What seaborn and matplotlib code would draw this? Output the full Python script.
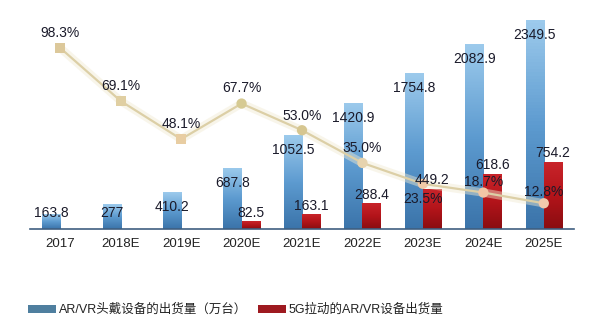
import numpy as np
import pandas as pd
import matplotlib
matplotlib.use("Agg")
import matplotlib.pyplot as plt
import matplotlib.colors as mcolors
from matplotlib.patches import Patch
import seaborn as sns

# ---------------- data ----------------
categories = ["2017", "2018E", "2019E", "2020E", "2021E", "2022E", "2023E", "2024E", "2025E"]
arvr_shipments = [163.8, 277, 410.2, 687.8, 1052.5, 1420.9, 1754.8, 2082.9, 2349.5]
fiveg_shipments = [np.nan, np.nan, np.nan, 82.5, 163.1, 288.4, 449.2, 618.6, 754.2]
growth_rate = [98.3, 69.1, 48.1, 67.7, 53.0, 35.0, 23.5, 18.7, 12.8]
series_names = ["AR/VR头戴设备的出货量（万台）", "5G拉动的AR/VR设备出货量"]

# ---------------- style ----------------
sns.set_theme(style="white")
plt.rcParams["font.family"] = ["Liberation Sans", "Noto Sans CJK SC", "DejaVu Sans"]

W, H, DPI = 600, 328, 100
fig = plt.figure(figsize=(W / DPI, H / DPI), dpi=DPI)
fig.patch.set_facecolor("white")
ax_left, ax_right, ax_base, ax_top = 30, 574, 228.7, 10
ax = fig.add_axes([ax_left / W, 1 - ax_base / H, (ax_right - ax_left) / W, (ax_base - ax_top) / H])
ax.set_facecolor("none")

df = pd.DataFrame({
    "year": categories * 2,
    "value": arvr_shipments + fiveg_shipments,
    "series": [series_names[0]] * len(categories) + [series_names[1]] * len(categories),
})
blue_c, red_c = "#5b97c8", "#a5161b"
sns.barplot(data=df, x="year", y="value", hue="series", order=categories,
            hue_order=series_names, palette=[blue_c, red_c], width=0.6,
            dodge=True, legend=False, ax=ax, saturation=1, linewidth=0)

YMAX = 2463
ax.set_xlim(-0.5, len(categories) - 0.5)
ax.set_ylim(0, YMAX)

# gradient fill for the bars
grad_maps = [
    mcolors.LinearSegmentedColormap.from_list("b", ["#3b74aa", "#5d9bd0", "#9ccaec"]),
    mcolors.LinearSegmentedColormap.from_list("r", ["#8a0d11", "#b3141a", "#c8242a"]),
]
grad = np.linspace(0, 1, 64).reshape(-1, 1)
for ci, cont in enumerate(ax.containers):
    for bar in cont:
        h = bar.get_height()
        if not np.isfinite(h) or h <= 0:
            continue
        x0 = bar.get_x()
        im = ax.imshow(grad, cmap=grad_maps[ci], origin="lower", aspect="auto",
                       extent=[x0, x0 + bar.get_width(), 0, h], zorder=bar.get_zorder())
        im.set_clip_path(bar)
ax.set_xlim(-0.5, len(categories) - 0.5)
ax.set_ylim(0, YMAX)

for s in ["left", "right", "top"]:
    ax.spines[s].set_visible(False)
ax.spines["bottom"].set_color("#3f5f80")
ax.spines["bottom"].set_linewidth(1.2)
ax.set_yticks([])
ax.set_xlabel("")
ax.set_ylabel("")
ax.tick_params(axis="x", length=0, pad=7, labelsize=9.5, labelcolor="#222222")

# ---------------- growth line on secondary axis ----------------
ax2 = ax.twinx()
ax2.set_ylim(-1.2, 119.2)
ax2.set_yticks([])
for s in ax2.spines.values():
    s.set_visible(False)
xs = np.arange(len(categories))
sns.lineplot(x=xs, y=growth_rate, ax=ax2, color="#f1ead2", lw=6, alpha=0.45, legend=False)
sns.lineplot(x=xs, y=growth_rate, ax=ax2, color="#dccfa6", lw=1.6, legend=False)
marker_group = ["sq", "sq", "sq", "ci", "ci", "ci", "ci", "ci", "ci"]
marker_colors = ["#dcc89a", "#e0cfa2", "#e8cda2", "#d6ca92", "#d6c690",
                 "#e6d3ae", "#f0caa8", "#f2c6a6", "#f2c9ac"]
sns.scatterplot(x=xs, y=growth_rate, hue=[str(i) for i in range(len(xs))],
                palette=marker_colors, style=marker_group,
                markers={"sq": "s", "ci": "o"}, s=55, linewidth=0,
                legend=False, ax=ax2, zorder=5)
ax2.set_xlim(-0.5, len(categories) - 0.5)

# percentage labels (offsets in points relative to the marker)
pct_offset = [11, 11, 11, 11, 10.5, 10.5, -11, 7.5, 8]
for x, v, dy in zip(xs, growth_rate, pct_offset):
    ax2.annotate(f"{v:.1f}%", (x, v), xytext=(0, dy), textcoords="offset points",
                 ha="center", va="center", fontsize=10, color="#1a1a2a", zorder=10)

# bar value labels (drawn on ax2 so they sit above the line)
px_per_unit = (ax_base - ax_top) / YMAX
blue_vals = [v for v in arvr_shipments if np.isfinite(v)]
red_vals = [v for v in fiveg_shipments if np.isfinite(v)]
for bar, v in zip(ax.containers[0], blue_vals):
    cx = bar.get_x() + bar.get_width() / 2
    anchor = max(bar.get_height(), 31 / px_per_unit)
    ax2.annotate(f"{v:g}", (cx, anchor), xycoords=ax.transData, xytext=(0, -10.8),
                 textcoords="offset points", ha="center", va="center",
                 fontsize=10, color="#1a1a2a", zorder=10)
for bar, v in zip(ax.containers[1], red_vals):
    cx = bar.get_x() + bar.get_width() / 2
    ax2.annotate(f"{v:g}", (cx, bar.get_height()), xycoords=ax.transData, xytext=(0, 6),
                 textcoords="offset points", ha="center", va="center",
                 fontsize=10, color="#1a1a2a", zorder=10)

# ---------------- legend ----------------
handles = [Patch(facecolor="#4f7f9f", edgecolor="none"), Patch(facecolor="#9e1a20", edgecolor="none")]
fig.legend(handles, series_names, loc="center left", bbox_to_anchor=(28 / W, 1 - 310 / H),
           ncol=2, frameon=False, fontsize=9, handlelength=2.2, handleheight=0.55,
           handletextpad=0.25, columnspacing=0.9, borderpad=0, borderaxespad=0,
           labelcolor="#222222")

fig.savefig("out.png", dpi=DPI, facecolor="white")
